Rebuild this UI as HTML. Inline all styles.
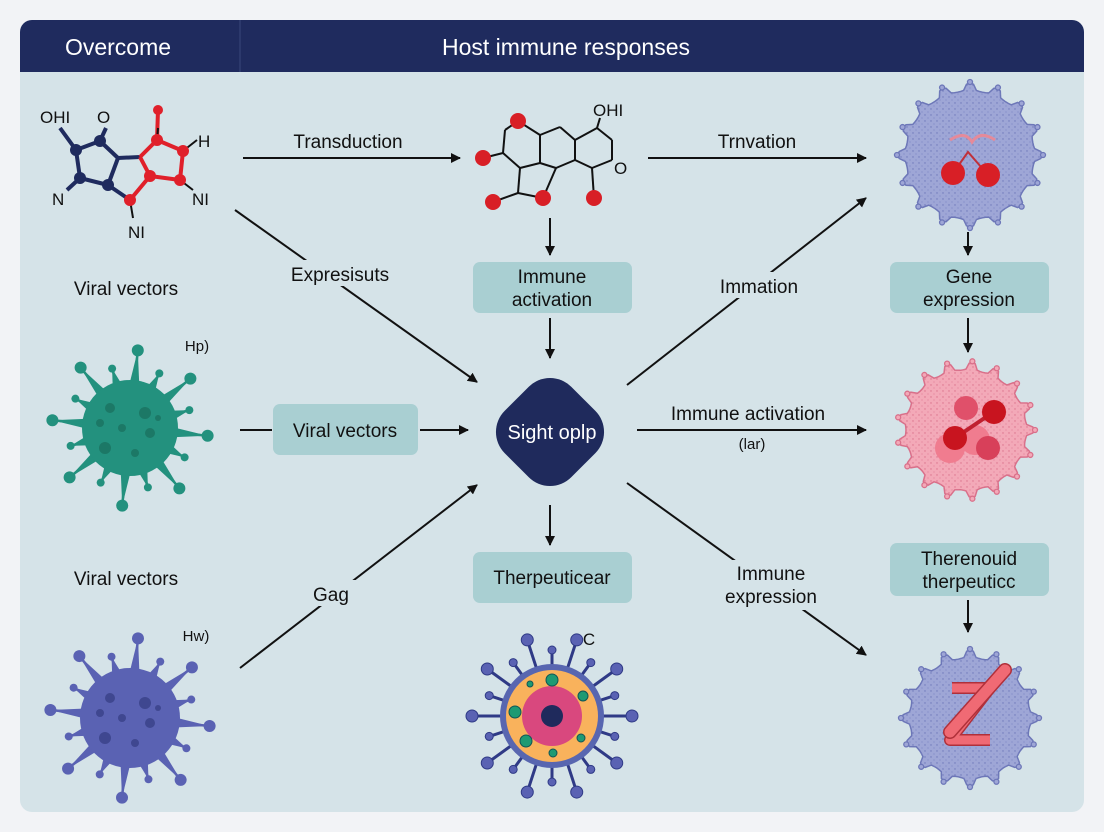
<!DOCTYPE html>
<html><head><meta charset="utf-8"><style>
html,body{margin:0;padding:0;background:#f2f3f6;}
svg{display:block;font-family:"Liberation Sans",sans-serif;}
</style></head><body>
<svg id="s" width="1104" height="832" viewBox="0 0 1104 832" xmlns="http://www.w3.org/2000/svg">
<defs>
<marker id="ah" markerWidth="10" markerHeight="10" refX="9" refY="5" orient="auto" markerUnits="userSpaceOnUse"><path d="M0,0 L10,5 L0,10 z" fill="#111"/></marker>
<pattern id="dots" width="6" height="6" patternUnits="userSpaceOnUse"><circle cx="1" cy="1" r="0.7" fill="#6d77b8"/><circle cx="4" cy="4" r="0.6" fill="#7c86c4"/></pattern>
<pattern id="pdots" width="6" height="6" patternUnits="userSpaceOnUse"><circle cx="1" cy="1" r="0.7" fill="#d9708a"/><circle cx="4" cy="4" r="0.6" fill="#e08098"/></pattern>
</defs>
<rect x="20" y="20" width="1064" height="792" rx="12" fill="#d5e3e8"/>
<path d="M20,72 V32 a12,12 0 0 1 12,-12 H1072 a12,12 0 0 1 12,12 V72 z" fill="#1f2b5e"/>
<line x1="240" y1="20" x2="240" y2="72" stroke="#3a477a" stroke-width="1"/>
<text x="118" y="55" fill="#fff" font-size="23" text-anchor="middle">Overcome</text>
<text x="566" y="55" fill="#fff" font-size="23" text-anchor="middle">Host immune responses</text>

<g id="g"></g>

<g stroke="#111" stroke-width="2" fill="none" marker-end="url(#ah)">
<line x1="243" y1="158" x2="460" y2="158"/>
<line x1="648" y1="158" x2="866" y2="158"/>
<line x1="550" y1="218" x2="550" y2="255"/>
<line x1="550" y1="318" x2="550" y2="358"/>
<line x1="968" y1="232" x2="968" y2="255"/>
<line x1="968" y1="318" x2="968" y2="352"/>
<line x1="235" y1="210" x2="477" y2="382"/>
<line x1="627" y1="385" x2="866" y2="198"/>
<line x1="420" y1="430" x2="468" y2="430"/>
<line x1="637" y1="430" x2="866" y2="430"/>
<line x1="550" y1="505" x2="550" y2="545"/>
<line x1="240" y1="668" x2="477" y2="485"/>
<line x1="627" y1="483" x2="866" y2="655"/>
<line x1="968" y1="600" x2="968" y2="632"/>
</g>
<line x1="240" y1="430" x2="272" y2="430" stroke="#111" stroke-width="2"/>

<g font-size="19" fill="#111" text-anchor="middle">
<rect x="275" y="260" width="135" height="26" fill="#d5e3e8"/>
<text x="340" y="281">Expresisuts</text>
<rect x="700" y="272" width="120" height="26" fill="#d5e3e8"/>
<text x="759" y="293">Immation</text>
<rect x="300" y="580" width="60" height="26" fill="#d5e3e8"/>
<text x="331" y="601">Gag</text>
<rect x="710" y="560" width="120" height="50" fill="#d5e3e8"/>
<text x="771" y="580">Immune</text>
<text x="771" y="603">expression</text>
<text x="348" y="148">Transduction</text>
<text x="757" y="148">Trnvation</text>
<text x="748" y="420">Immune activation</text>
<text x="752" y="449" font-size="15">(lar)</text>
<text x="126" y="295">Viral vectors</text>
<text x="126" y="585">Viral vectors</text>
<text x="197" y="351" font-size="15">Hp)</text>
<text x="196" y="641" font-size="15">Hw)</text>
<text x="589" y="645" font-size="17">C</text>
</g>

<g fill="#a9cfd2">
<rect x="473" y="262" width="159" height="51" rx="7"/>
<rect x="890" y="262" width="159" height="51" rx="7"/>
<rect x="273" y="404" width="145" height="51" rx="7"/>
<rect x="473" y="552" width="159" height="51" rx="7"/>
<rect x="890" y="543" width="159" height="53" rx="7"/>
</g>
<g font-size="19" fill="#111" text-anchor="middle">
<text x="552" y="283">Immune</text><text x="552" y="306">activation</text>
<text x="969" y="283">Gene</text><text x="969" y="306">expression</text>
<text x="345" y="437">Viral vectors</text>
<text x="552" y="584">Therpeuticear</text>
<text x="969" y="565">Therenouid</text><text x="969" y="588">therpeuticc</text>
</g>

<rect x="503" y="385" width="94" height="94" rx="30" fill="#1f2a5c" transform="rotate(45 550 432) translate(0,0)"/>
<text x="552" y="439" fill="#fff" font-size="20" text-anchor="middle">Sight oplp</text>

<g font-size="17" fill="#111">
<text x="40" y="123">OHI</text><text x="97" y="123">O</text><text x="198" y="147">H</text>
<text x="52" y="205">N</text><text x="192" y="205">NI</text><text x="128" y="238">NI</text>
<text x="593" y="116">OHI</text><text x="614" y="174">O</text>
</g>
</svg>
<script>
const NS="http://www.w3.org/2000/svg",g=document.getElementById("g");
function el(t,a){const e=document.createElementNS(NS,t);for(const k in a)e.setAttribute(k,a[k]);g.appendChild(e);return e;}
function virus(cx,cy,rb,col,dark,n,stroke){
 for(let i=0;i<n;i++){const a=i/n*Math.PI*2+0.1,L=(i%2?rb+14:rb+30);
  const x=cx+Math.cos(a)*L,y=cy+Math.sin(a)*L;
  const px=-Math.sin(a)*5,py=Math.cos(a)*5;
  el("path",{d:`M${cx+Math.cos(a)*rb*0.9+px},${cy+Math.sin(a)*rb*0.9+py} L${x},${y} L${cx+Math.cos(a)*rb*0.9-px},${cy+Math.sin(a)*rb*0.9-py}z`,fill:col});
  el("line",{x1:cx,y1:cy,x2:x,y2:y,stroke:col,"stroke-width":2.5});
  el("circle",{cx:x,cy:y,r:i%2?4:6,fill:col,stroke:stroke||"none"});}
 el("circle",{cx,cy,r:rb,fill:col});
 const sp=[[-20,-20,5],[15,-15,6],[-8,0,4],[20,5,5],[-25,20,6],[5,25,4],[-30,-5,4],[28,-10,3]];
 sp.forEach(s=>el("circle",{cx:cx+s[0],cy:cy+s[1],r:s[2],fill:dark}));
}
function cell(cx,cy,r,fill,pat,edge,n){
 let d="";for(let i=0;i<=n*8;i++){const a=i/(n*8)*Math.PI*2;const ph=(i%8)/8;const rr=r+(ph<0.15||ph>0.85?5:0)-Math.sin(ph*Math.PI)*3;
  d+=(i?"L":"M")+(cx+Math.cos(a)*rr).toFixed(1)+","+(cy+Math.sin(a)*rr).toFixed(1);}
 el("path",{d:d+"z",fill,stroke:edge,"stroke-width":1.5});
 el("path",{d:d+"z",fill:pat});
 for(let i=0;i<n;i++){const a=i/n*Math.PI*2;el("circle",{cx:cx+Math.cos(a)*(r+6),cy:cy+Math.sin(a)*(r+6),r:2.5,fill:fill,stroke:edge,"stroke-width":1.3});}
}
// molecule 1
[["#1f2b5e",[[60,128,76,150],[76,150,100,141],[100,141,106,128],[76,150,80,178],[80,178,67,190],[80,178,108,185],[108,185,118,158],[100,141,118,158],[118,158,140,157],[108,185,130,200]]],
 ["#e0202a",[[140,157,157,140],[157,140,183,151],[183,151,180,180],[180,180,150,176],[150,176,140,157],[150,176,130,200],[157,140,158,110]]],
 ["#111",[[130,200,133,218],[183,151,197,140],[180,180,193,190],[157,140,158,128]]]].forEach(([c,ls])=>ls.forEach(l=>el("line",{x1:l[0],y1:l[1],x2:l[2],y2:l[3],stroke:c,"stroke-width":c=="#111"?2:4})));
[[76,150,"#1f2b5e"],[100,141,"#1f2b5e"],[80,178,"#1f2b5e"],[108,185,"#1f2b5e"],[157,140,"#e0202a"],[183,151,"#e0202a"],[180,180,"#e0202a"],[150,176,"#e0202a"],[130,200,"#e0202a"]].forEach(p=>el("circle",{cx:p[0],cy:p[1],r:6,fill:p[2]}));
el("circle",{cx:158,cy:110,r:5,fill:"#e0202a"});
// molecule 2
[[505,130,518,121],[518,121,540,135],[540,135,540,163],[540,163,520,168],[520,168,503,153],[503,153,505,130],[540,135,560,127],[560,127,575,140],[575,140,575,160],[575,160,556,168],[556,168,540,163],[575,140,597,128],[597,128,612,140],[612,140,612,160],[612,160,592,168],[592,168,575,160],[597,128,600,118],[592,168,594,198],[556,168,543,198],[520,168,518,193],[518,193,543,198],[518,193,493,202],[503,153,483,158]].forEach(l=>el("line",{x1:l[0],y1:l[1],x2:l[2],y2:l[3],stroke:"#111","stroke-width":2}));
[[518,121],[594,198],[543,198],[493,202],[483,158]].forEach(p=>el("circle",{cx:p[0],cy:p[1],r:8,fill:"#d81f26"}));
// cells
cell(970,155,67,"#9ea6d6","url(#dots)","#6d77b8",16);
el("path",{d:"M950,140 Q965,130 972,142 Q980,130 995,140",stroke:"#e58a9a","stroke-width":3,fill:"none"});
el("path",{d:"M953,173 L968,152 L988,175",stroke:"#c0303a","stroke-width":2,fill:"none"});
el("circle",{cx:953,cy:173,r:12,fill:"#d81f26"});el("circle",{cx:988,cy:175,r:12,fill:"#d81f26"});
cell(966,430,63,"#f3a9b8","url(#pdots)","#d9708a",17);
[[950,448,15,"#f07c8f"],[975,440,15,"#f07c8f"],[966,408,12,"#e0506a"],[988,448,12,"#d8405a"]].forEach(c=>el("circle",{cx:c[0],cy:c[1],r:c[2],fill:c[3]}));
el("line",{x1:955,y1:438,x2:992,y2:413,stroke:"#c02030","stroke-width":4});
el("circle",{cx:955,cy:438,r:12,fill:"#c8141f"});el("circle",{cx:994,cy:412,r:12,fill:"#c8141f"});
cell(970,718,63,"#9ea6d6","url(#dots)","#6d77b8",16);
el("path",{d:"M952,688 H990 L950,740 H990",stroke:"#b0303a","stroke-width":12,fill:"none","stroke-linejoin":"round"});
el("path",{d:"M952,688 H990 L950,740 H990",stroke:"#f06a74","stroke-width":9,fill:"none","stroke-linejoin":"round"});
el("line",{x1:950,y1:732,x2:1005,y2:670,stroke:"#b0303a","stroke-width":14,"stroke-linecap":"round"});
el("line",{x1:950,y1:732,x2:1005,y2:670,stroke:"#f06a74","stroke-width":11,"stroke-linecap":"round"});
// viruses
virus(130,428,48,"#23917e","#1c7866",16);
virus(130,718,50,"#5a62b3","#3f4790",16);
// center bottom cell
(function(){const cx=552,cy=716;for(let i=0;i<20;i++){const a=i/20*Math.PI*2,L=i%2?66:80;const x=cx+Math.cos(a)*L,y=cy+Math.sin(a)*L;
 el("line",{x1:cx,y1:cy,x2:x,y2:y,stroke:"#2f3a86","stroke-width":3});el("circle",{cx:x,cy:y,r:i%2?4:6,fill:"#5a62b3",stroke:"#2f3a86"});}
 el("circle",{cx,cy,r:52,fill:"#5866b0"});el("circle",{cx,cy,r:46,fill:"#f9b25c"});el("circle",{cx,cy,r:30,fill:"#d9487e"});el("circle",{cx,cy,r:11,fill:"#1f2a5c"});
 [[552,680,6],[583,696,5],[515,712,6],[526,741,6],[581,738,4],[553,753,4],[530,684,3]].forEach(p=>el("circle",{cx:p[0],cy:p[1],r:p[2],fill:"#1e9a73",stroke:"#155"}));})();
</script>
</body></html>
